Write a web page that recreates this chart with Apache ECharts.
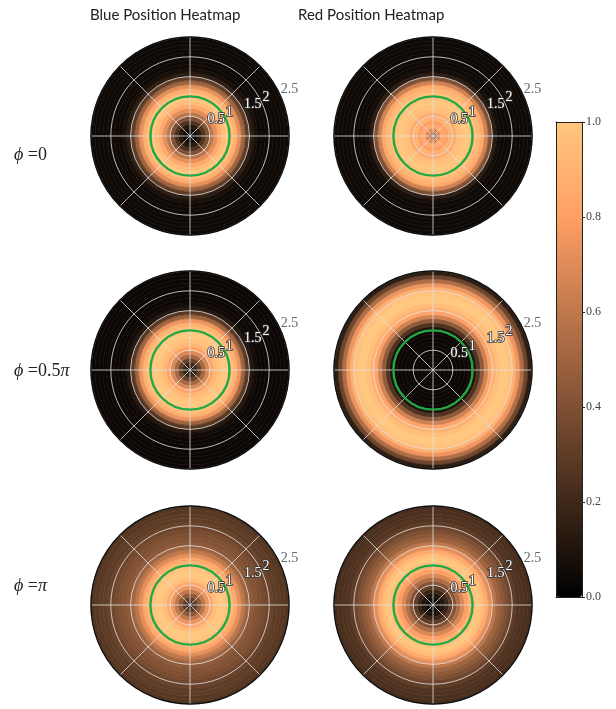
<!DOCTYPE html>
<html>
<head>
<meta charset="utf-8">
<script src="https://cdn.jsdelivr.net/npm/echarts@6/dist/echarts.min.js"></script>
<style>
  html, body { margin: 0; background: #fff; }
  #chart { width: 616px; height: 709px; }
</style>
</head>
<body>
<div id="chart"></div>
<script>
// column / row headings
const columnTitles = ['Blue Position Heatmap', 'Red Position Heatmap']
const rowLabels = ['{i|ϕ} =0', '{i|ϕ} =0.5{i|π}', '{i|ϕ} ={i|π}']

// radial bin edges (same for every panel)
const ringEdges = [0, 0.1, 0.2, 0.3, 0.4, 0.5, 0.6, 0.7, 0.8, 0.9, 1.0, 1.1, 1.2,
  1.3, 1.4, 1.5, 1.6, 1.7, 1.8, 1.9, 2.0, 2.1, 2.2, 2.3, 2.4, 2.5]

// normalised density per radial bin
const blue0 = [0.02, 0.05, 0.12, 0.25, 0.40, 0.58, 0.72, 0.85, 0.95, 1.00, 0.97, 0.88, 0.72,
  0.50, 0.30, 0.15, 0.08, 0.05, 0.05, 0.05, 0.05, 0.05, 0.05, 0.05, 0.05]
const red0 = [0.50, 0.70, 0.85, 0.80, 0.90, 0.86, 0.95, 0.97, 1.00, 0.98, 0.97, 0.92, 0.85,
  0.65, 0.40, 0.15, 0.07, 0.05, 0.05, 0.05, 0.05, 0.05, 0.05, 0.05, 0.05]
const blueHalfPi = [0.05, 0.18, 0.33, 0.52, 0.68, 0.82, 0.92, 0.97, 1.00, 1.00, 0.97, 0.90, 0.75,
  0.50, 0.28, 0.12, 0.06, 0.04, 0.04, 0.04, 0.04, 0.04, 0.04, 0.04, 0.04]
const redHalfPi = [0.04, 0.04, 0.04, 0.04, 0.04, 0.04, 0.04, 0.04, 0.04, 0.04, 0.10, 0.25, 0.45,
  0.65, 0.82, 0.90, 0.96, 1.00, 1.00, 0.97, 0.90, 0.75, 0.55, 0.35, 0.15]
const bluePi = [0.15, 0.30, 0.45, 0.60, 0.75, 0.85, 0.95, 1.00, 1.00, 0.97, 0.92, 0.85, 0.72,
  0.60, 0.50, 0.45, 0.42, 0.40, 0.38, 0.35, 0.33, 0.30, 0.30, 0.28, 0.27]
const redPi = [0.02, 0.05, 0.10, 0.18, 0.30, 0.42, 0.55, 0.68, 0.80, 0.90, 0.97, 1.00, 0.95,
  0.85, 0.72, 0.60, 0.50, 0.45, 0.40, 0.35, 0.30, 0.26, 0.25, 0.24, 0.23]

const panels = [blue0, red0, blueHalfPi, redHalfPi, bluePi, redPi]

const refRadius = [1]           // green reference circle
const rMax = 2.5
const rStep = 0.5
const colorTicks = [0, 0.2, 0.4, 0.6, 0.8, 1.0]

// layout
const colX = [190, 433]
const rowY = [136, 370, 605]
const panelR = 99

// matplotlib "copper"
const copper = ['#000000', '#3f2819', '#7f5033', '#bf784c', '#ff9f65', '#ffc77f']

const serif = '"Liberation Serif", "DejaVu Serif", serif'

function ringItem (params, api) {
  const cs = params.coordSys
  const a = api.coord([api.value(0), 0])
  const b = api.coord([api.value(1), 0])
  const color = api.visual('color')
  return {
    type: 'sector',
    shape: {
      cx: cs.cx,
      cy: cs.cy,
      r0: Math.hypot(a[0] - cs.cx, a[1] - cs.cy),
      r: Math.hypot(b[0] - cs.cx, b[1] - cs.cy),
      startAngle: 0,
      endAngle: Math.PI * 2
    },
    style: { fill: color, stroke: color, lineWidth: 0.6 }
  }
}

function circleItem (params, api) {
  const cs = params.coordSys
  const p = api.coord([api.value(0), 0])
  return {
    type: 'circle',
    shape: { cx: cs.cx, cy: cs.cy, r: Math.hypot(p[0] - cs.cx, p[1] - cs.cy) },
    style: { fill: 'none', stroke: '#22a845', lineWidth: 2.4 }
  }
}

const polar = []
const angleAxis = []
const radiusAxis = []
const series = []

panels.forEach((vals, i) => {
  const center = [colX[i % 2], rowY[Math.floor(i / 2)]]
  polar.push({ center, radius: panelR })
  angleAxis.push({
    polarIndex: i,
    type: 'value',
    min: 0,
    max: 360,
    interval: 45,
    startAngle: 0,
    z: 5,
    axisLine: { show: true, lineStyle: { color: '#111', width: 1.5 } },
    axisTick: { show: false },
    axisLabel: { show: false },
    splitLine: { show: true, lineStyle: { color: 'rgba(225,225,225,0.8)', width: 1 } }
  })
  radiusAxis.push({
    polarIndex: i,
    type: 'value',
    min: 0,
    max: rMax,
    interval: rStep,
    z: 5,
    axisLine: { show: false },
    axisTick: { show: false },
    axisLabel: { show: false },
    splitLine: { show: true, lineStyle: { color: 'rgba(225,225,225,0.8)', width: 1 } }
  })
  series.push({
    type: 'custom',
    coordinateSystem: 'polar',
    polarIndex: i,
    renderItem: ringItem,
    silent: true,
    z: 2,
    data: vals.map((v, k) => [ringEdges[k], ringEdges[k + 1], v])
  })
})

// overlay polars for radial tick labels and the r = 1 circle
panels.forEach((vals, i) => {
  const center = [colX[i % 2], rowY[Math.floor(i / 2)]]
  const idx = panels.length + i
  polar.push({ center, radius: panelR })
  angleAxis.push({ polarIndex: idx, type: 'value', min: 0, max: 360, startAngle: 22.5, show: false })
  radiusAxis.push({
    polarIndex: idx,
    type: 'value',
    min: 0,
    max: rMax,
    interval: rStep,
    z: 12,
    axisLine: { show: false },
    axisTick: { show: false },
    splitLine: { show: false },
    axisLabel: {
      show: true,
      showMinLabel: false,
      margin: 2,
      align: 'left',
      verticalAlign: 'bottom',
      fontFamily: serif,
      fontSize: 14,
      color: '#fff',
      textBorderColor: '#333',
      textBorderWidth: 1.6,
      formatter: v => (v === rMax ? '{o|' + v + '}' : String(v)),
      rich: { o: { color: '#666', textBorderWidth: 0, fontFamily: serif, fontSize: 14 } }
    }
  })
  series.push({
    type: 'custom',
    coordinateSystem: 'polar',
    polarIndex: idx,
    renderItem: circleItem,
    silent: true,
    z: 10,
    data: refRadius.map(r => [r, 0])
  })
})

const titles = [
  ...columnTitles.map((t, i) => ({
    text: t,
    left: [85, 293][i],
    top: 3,
    textStyle: { fontFamily: 'Lato, "Open Sans", sans-serif', fontSize: 15, fontWeight: 'normal', color: '#222' }
  })),
  ...rowLabels.map((t, i) => ({
    text: t,
    left: 9,
    top: [141, 357, 572][i],
    textStyle: {
      fontFamily: serif,
      fontSize: 18,
      fontWeight: 'normal',
      color: '#222',
      rich: { i: { fontStyle: 'italic', fontFamily: serif, fontSize: 18, color: '#222' } }
    }
  }))
]

const chart = echarts.init(document.getElementById('chart'))
chart.setOption({
  animation: false,
  backgroundColor: '#fff',
  title: titles,
  polar,
  angleAxis,
  radiusAxis,
  visualMap: {
    type: 'continuous',
    min: 0,
    max: 1,
    dimension: 2,
    seriesIndex: panels.map((p, i) => i),
    left: 556,
    top: 122,
    itemWidth: 26,
    itemHeight: 475,
    padding: 0,
    calculable: false,
    inRange: { color: copper }
  },
  grid: { left: 556, top: 122, width: 26, height: 475, show: false },
  xAxis: [
    { type: 'value', position: 'bottom', min: 0, max: 1, z: 10, axisLine: { show: true, onZero: false, lineStyle: { color: '#222' } }, axisTick: { show: false }, axisLabel: { show: false }, splitLine: { show: false } },
    { type: 'value', position: 'top', min: 0, max: 1, z: 10, axisLine: { show: true, onZero: false, lineStyle: { color: '#222' } }, axisTick: { show: false }, axisLabel: { show: false }, splitLine: { show: false } }
  ],
  yAxis: [
    {
      type: 'value',
      position: 'right',
      min: colorTicks[0],
      max: colorTicks[colorTicks.length - 1],
      interval: 0.2,
      z: 10,
      axisLine: { show: true, onZero: false, lineStyle: { color: '#222' } },
      axisTick: { show: true, length: 3, lineStyle: { color: '#222' } },
      splitLine: { show: false },
      axisLabel: { margin: 4, fontFamily: serif, fontSize: 12, color: '#444', formatter: v => v.toFixed(1) }
    },
    { type: 'value', position: 'left', min: 0, max: 1, z: 10, axisLine: { show: true, onZero: false, lineStyle: { color: '#222' } }, axisTick: { show: false }, axisLabel: { show: false }, splitLine: { show: false } }
  ],
  series
})
</script>
</body>
</html>
